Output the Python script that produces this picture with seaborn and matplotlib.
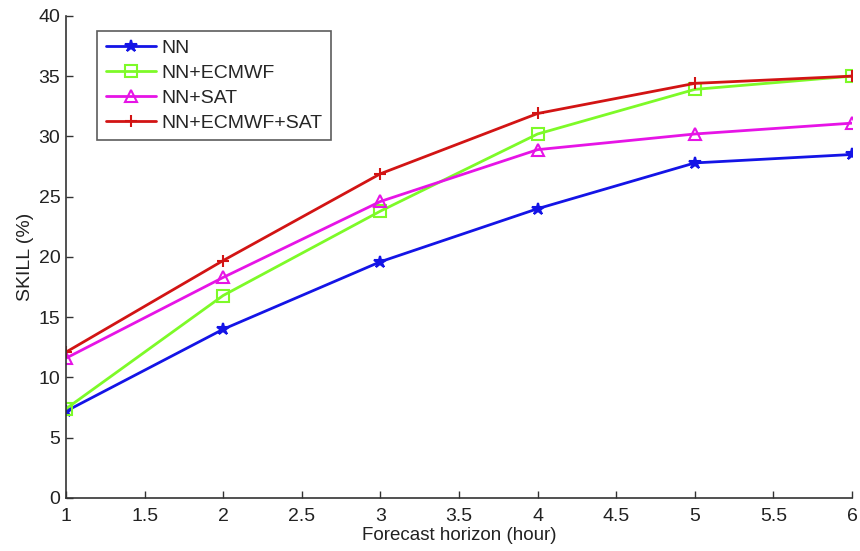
import matplotlib
matplotlib.use("Agg")
import matplotlib.pyplot as plt
import seaborn as sns
import pandas as pd

hours = [1, 2, 3, 4, 5, 6]
nn = [7.2, 14.0, 19.6, 24.0, 27.8, 28.5]
nn_ecmwf = [7.4, 16.8, 23.8, 30.2, 33.9, 35.0]
nn_sat = [11.6, 18.3, 24.6, 28.9, 30.2, 31.1]
nn_ecmwf_sat = [12.1, 19.7, 26.9, 31.9, 34.4, 35.0]
series_names = ["NN", "NN+ECMWF", "NN+SAT", "NN+ECMWF+SAT"]
x_ticks = [1, 1.5, 2, 2.5, 3, 3.5, 4, 4.5, 5, 5.5, 6]
y_ticks = [0, 5, 10, 15, 20, 25, 30, 35, 40]

sns.set_style("white")
plt.rcParams["font.family"] = ["Liberation Sans", "DejaVu Sans"]

rows = []
for name, vals in zip(series_names, [nn, nn_ecmwf, nn_sat, nn_ecmwf_sat]):
    for h, v in zip(hours, vals):
        rows.append({"hour": h, "skill": v, "series": name})
df = pd.DataFrame(rows)

colors = {"NN": "#1414e6", "NN+ECMWF": "#7dfa28", "NN+SAT": "#e614e6", "NN+ECMWF+SAT": "#d21414"}
markers = {"NN": "*", "NN+ECMWF": "s", "NN+SAT": "^", "NN+ECMWF+SAT": "+"}

fig = plt.figure(figsize=(8.6, 5.51), dpi=100)
ax = fig.add_axes([0.0767, 0.0962, 0.914, 0.875])

for name in series_names:
    sub = df[df["series"] == name]
    mfc = colors[name] if name == "NN" else "none"
    sns.lineplot(data=sub, x="hour", y="skill", ax=ax, color=colors[name],
                 marker=markers[name], markersize=9, markerfacecolor=mfc,
                 markeredgecolor=colors[name], markeredgewidth=1.5,
                 linewidth=2, label=name)

ax.set_xlim(1, 6)
ax.set_ylim(0, 40)
ax.set_xticks(x_ticks)
ax.set_xticklabels([f"{t:g}" for t in x_ticks])
ax.set_yticks(y_ticks)
ax.set_yticklabels([str(t) for t in y_ticks])
ax.set_xlabel("Forecast horizon (hour)", fontsize=13.5, color="#222222", labelpad=1)
ax.set_ylabel("SKILL (%)", fontsize=14, color="#222222", labelpad=3)
ax.tick_params(direction="in", length=5, width=1, colors="#333333", labelsize=14,
               labelcolor="#222222", bottom=True, left=True)
ax.tick_params(axis="x", pad=7.5)
ax.tick_params(axis="y", pad=4)
for s in ["top", "right"]:
    ax.spines[s].set_visible(False)
for s in ["left", "bottom"]:
    ax.spines[s].set_color("#333333")
    ax.spines[s].set_linewidth(1.2)

leg = ax.legend(loc="upper left", bbox_to_anchor=(0.0394, 0.969), fontsize=14,
                frameon=True, fancybox=False, edgecolor="#333333",
                handlelength=2.6, handletextpad=0.25, borderpad=0.45,
                labelspacing=0.37, borderaxespad=0)
leg.get_frame().set_linewidth(1.2)

fig.savefig("out.png", dpi=100)
